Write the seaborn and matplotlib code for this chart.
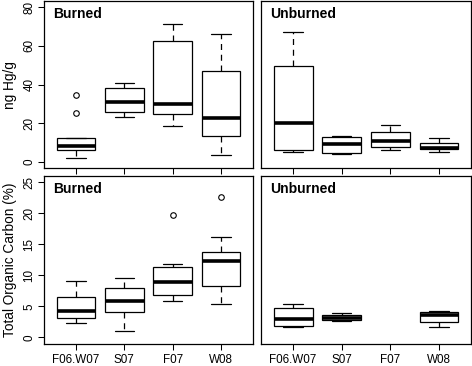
import numpy as np
import pandas as pd
import matplotlib
matplotlib.use("Agg")
import matplotlib.pyplot as plt
import seaborn as sns

#####################################
# data read off the boxes
# each box: (low whisker, Q1, median, Q3, high whisker)
#####################################
periods = ["F06.W07", "S07", "F07", "W08"]

hg_burned = [(1.9, 6.0, 8.2, 12.3, 12.3),
             (23.5, 25.9, 31.0, 38.4, 40.6),
             (18.8, 24.7, 30.0, 62.5, 71.1),
             (3.6, 13.5, 22.8, 47.1, 66.1)]
hg_burned_out = [[25.2, 34.9], [], [], []]

hg_unburned = [(5.1, 6.3, 20.2, 49.8, 67.1),
               (4.4, 4.6, 9.1, 13.2, 13.3),
               (6.2, 7.9, 10.9, 15.7, 19.3),
               (5.3, 6.8, 7.5, 10.1, 12.5)]
hg_unburned_out = [[], [], [], []]

toc_burned = [(2.4, 3.1, 4.2, 6.6, 9.15),
              (1.1, 4.15, 5.9, 8.0, 9.6),
              (5.8, 6.8, 9.0, 11.35, 11.8),
              (5.4, 8.3, 12.3, 13.8, 16.2)]
toc_burned_out = [[], [], [19.8], [22.6]]

# no unburned TOC samples for F07
toc_unburned = [(1.7, 1.8, 3.0, 4.7, 5.4),
                (2.6, 2.85, 3.2, 3.7, 4.0),
                None,
                (1.7, 2.5, 3.55, 4.1, 4.2)]
toc_unburned_out = [[], [], [], []]

hg_ticks = [0, 20, 40, 60, 80]
toc_ticks = [0, 5, 10, 15, 20, 25]


def expand(summaries, outliers, k=10):
    """
    turn five-number summaries back into a sample whose quartiles,
    whisker ends and outliers are the ones read from the picture
    """
    rows = []
    for period, s, out in zip(periods, summaries, outliers):
        if s is None:
            continue
        lo, q1, med, q3, hi = s
        vals = [lo] + [q1] * k + [med] * k + [q3] * k + [hi] + list(out)
        rows += [(period, v) for v in vals]
    return pd.DataFrame(rows, columns=["period", "value"])


sns.set_theme(style="ticks")
plt.rcParams["font.family"] = ["Liberation Sans", "DejaVu Sans"]

fig = plt.figure(figsize=(4.72, 3.66), dpi=100)

panels = [
    # data, outliers, axes rect, title, yticks, ylim, ylabel, left col, bottom row
    (hg_burned, hg_burned_out, [0.0932, 0.5402, 0.4428, 0.4571], "Burned",
     hg_ticks, (-3.2, 83.2), "ng Hg/g", True, False),
    (hg_unburned, hg_unburned_out, [0.553, 0.5402, 0.445, 0.4571], "Unburned",
     hg_ticks, (-3.2, 83.2), None, False, False),
    (toc_burned, toc_burned_out, [0.0932, 0.0609, 0.4428, 0.4582], "Burned",
     toc_ticks, (-1.0, 26.0), "Total Organic Carbon (%)", True, True),
    (toc_unburned, toc_unburned_out, [0.553, 0.0609, 0.445, 0.4582], "Unburned",
     toc_ticks, (-1.0, 26.0), None, False, True),
]

for data, outs, rect, title, yticks, ylim, ylabel, left, bottom in panels:
    ax = fig.add_axes(rect)
    df = expand(data, outs)
    sns.boxplot(data=df, x="period", y="value", order=periods, ax=ax,
                width=0.8, whis=1.5, color="white", linecolor="black",
                linewidth=0.9, fliersize=4,
                medianprops=dict(linewidth=2.6, color="black"),
                whiskerprops=dict(linestyle=(0, (4.8, 3.8))),
                flierprops=dict(marker="o", markerfacecolor="none",
                                markeredgecolor="black", markeredgewidth=0.8))
    ax.set_xlim(-0.66, 3.66)
    ax.set_ylim(*ylim)
    ax.set_yticks(yticks)
    ax.set_xlabel("")
    ax.set_ylabel("")
    for sp in ax.spines.values():
        sp.set_visible(True)
        sp.set_color("black")
        sp.set_linewidth(0.9)
    ax.tick_params(axis="both", direction="out", length=4.3, width=0.75,
                   color="black", labelsize=8.4, labelcolor="black")
    ax.tick_params(axis="x", pad=3.2)
    ax.tick_params(axis="y", pad=1.8, labelrotation=90)
    if left:
        plt.setp(ax.get_yticklabels(), va="center")
        ax.set_ylabel(ylabel, fontsize=9.8, color="black", va="center")
        ax.yaxis.set_label_coords(-0.163, 0.5)
    else:
        ax.tick_params(axis="y", left=False, labelleft=False)
    if not bottom:
        ax.tick_params(axis="x", labelbottom=False)
    ax.text(0.042, 0.925, title, transform=ax.transAxes, ha="left",
            va="center", fontsize=10, fontweight="bold", color="black")

fig.savefig("out.png", dpi=100)
